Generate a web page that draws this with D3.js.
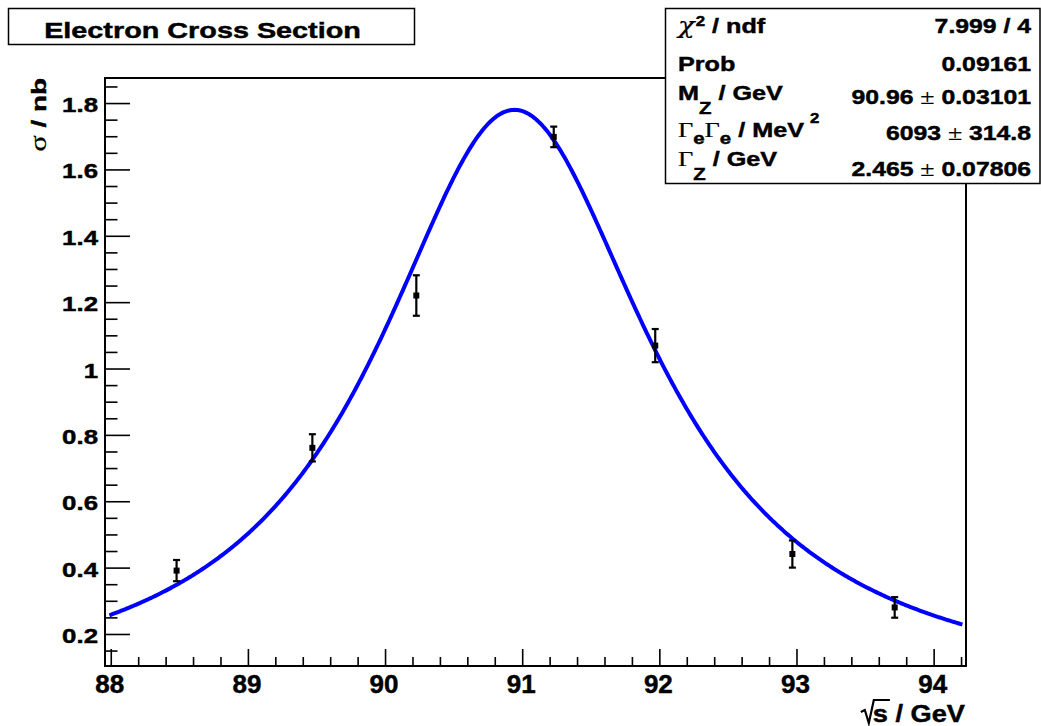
<!DOCTYPE html>
<html>
<head>
<meta charset="utf-8">
<script src="https://cdn.jsdelivr.net/npm/d3@7"></script>
<style>
  html, body { margin: 0; padding: 0; background: #fff; }
  svg { display: block; }
  text { font-family: "Liberation Sans", Arial, Helvetica, sans-serif; font-weight: bold; fill: #000;
         white-space: pre; stroke: #000; stroke-width: 0.45px; }
  text.sym { font-family: "Liberation Serif", "Times New Roman", serif; font-weight: normal; stroke-width: 0.2px; }
  text.sym2 { font-family: "DejaVu Serif", serif; font-weight: normal; font-style: italic; stroke-width: 0.2px; }
</style>
</head>
<body>
<svg id="chart" width="1041" height="726"></svg>
<script>
// Measured e+e- -> e+e- cross sections around the Z pole
const energies = [88.48, 89.47, 90.228, 91.23, 91.97, 92.97, 93.716];   // sqrt(s) / GeV
const sigma    = [0.391, 0.761, 1.220, 1.698, 1.069, 0.441, 0.280];     // nb
const sigmaErr = [0.032, 0.041, 0.061, 0.031, 0.050, 0.041, 0.031];     // nb

// Breit-Wigner fit result
const fitMZ      = 90.96;   // GeV
const fitGeeGee  = 6093;    // MeV^2
const fitGammaZ  = 2.465;   // GeV
const fitRange   = [87.99, 94.21];

const xDomain = [87.958, 94.236];
const yDomain = [0.1035, 1.8755];
const xTicks = [88, 89, 90, 91, 92, 93, 94];
const yTicks = [0.2, 0.4, 0.6, 0.8, 1, 1.2, 1.4, 1.6, 1.8];
const xTickLabels = ["88", "89", "90", "91", "92", "93", "94"];
const yTickLabels = ["0.2", "0.4", "0.6", "0.8", "1", "1.2", "1.4", "1.6", "1.8"];

const titleText = "Electron Cross Section";
const statValues = ["7.999 / 4", "0.09161", "90.96 \u00b1 0.03101", "6093 \u00b1 314.8", "2.465 \u00b1 0.07806"];

const svg = d3.select("#chart");
const frame = { left: 105, right: 966, top: 78, bottom: 666 };

const x = d3.scaleLinear().domain(xDomain).range([frame.left, frame.right]);
const y = d3.scaleLinear().domain(yDomain).range([frame.bottom, frame.top]);

// Rich text: each part is its own <text>, laid out left to right,
// with its own size, vertical offset and horizontal stretch.
function rich(parent, px, py, parts, opt) {
  const o = Object.assign({ size: 21, sx: 1, anchor: "start", rotate: 0 }, opt || {});
  const outer = parent.append("g").attr("transform", `translate(${px},${py}) rotate(${o.rotate})`);
  const inner = outer.append("g");
  let cx = 0;
  const widths = [];
  parts.forEach(p => {
    const q = typeof p === "string" ? { t: p } : p;
    const sx = q.sx || o.sx;
    cx += q.dx || 0;
    const t = inner.append("text")
      .attr("transform", `translate(${cx},${q.dy || 0}) scale(${sx},1)`)
      .style("font-size", (q.size || o.size) + "px")
      .text(q.t);
    if (q.cls) t.attr("class", q.cls);
    else if (q.sym) t.attr("class", "sym");
    const w = t.node().getComputedTextLength() * sx;
    widths.push({ start: cx, w });
    cx += w;
  });
  const shift = o.anchor === "end" ? -cx : o.anchor === "middle" ? -cx / 2 : 0;
  inner.attr("transform", `translate(${shift},0)`);
  return { width: cx, shift, widths };
}

// ---- ticks (inside the frame, left and bottom) ----
const yMinor = d3.range(0.15, 1.87, 0.05).map(v => +v.toFixed(2)).filter(v => !yTicks.some(t => Math.abs(t - v) < 1e-6));
const xMinor = d3.range(88.2, 94.23, 0.2).map(v => +v.toFixed(1)).filter(v => !xTicks.some(t => Math.abs(t - v) < 1e-6));

function styleAxis(g) {
  g.select(".domain").remove();
  g.selectAll(".tick line").attr("stroke", "#000").attr("stroke-width", 1.6);
  g.selectAll(".tick text").remove();
}

svg.append("g").attr("transform", `translate(${frame.left},0)`)
  .call(d3.axisLeft(y).tickValues(yTicks).tickSize(-25).tickFormat("")).call(styleAxis);
svg.append("g").attr("transform", `translate(${frame.left},0)`)
  .call(d3.axisLeft(y).tickValues(yMinor).tickSize(-12.5).tickFormat("")).call(styleAxis);
svg.append("g").attr("transform", `translate(0,${frame.bottom})`)
  .call(d3.axisBottom(x).tickValues(xTicks).tickSize(-17).tickFormat("")).call(styleAxis);
svg.append("g").attr("transform", `translate(0,${frame.bottom})`)
  .call(d3.axisBottom(x).tickValues(xMinor).tickSize(-9).tickFormat("")).call(styleAxis);

// tick labels
yTicks.forEach((v, i) => rich(svg, frame.left - 7, y(v) + 9, [yTickLabels[i]], { size: 21, sx: 1.23, anchor: "end" }));
xTicks.forEach((v, i) => rich(svg, x(v) - 1, 693, [xTickLabels[i]], { size: 25, sx: 1.04, anchor: "middle" }));

// frame
svg.append("rect")
  .attr("x", frame.left).attr("y", frame.top)
  .attr("width", frame.right - frame.left).attr("height", frame.bottom - frame.top)
  .attr("fill", "none").attr("stroke", "#000").attr("stroke-width", 2);

// ---- fit curve ----
function breitWigner(e) {
  const s = e * e, m2 = fitMZ * fitMZ, g2 = fitGeeGee * 1e-6;
  const num = 12 * Math.PI / m2 * s * g2;
  const den = (s - m2) * (s - m2) + s * s * fitGammaZ * fitGammaZ / m2;
  return num / den * 0.3894e6; // GeV^-2 -> nb
}
const curveE = d3.range(0, 601).map(i => fitRange[0] + (fitRange[1] - fitRange[0]) * i / 600);
svg.append("path")
  .datum(curveE)
  .attr("d", d3.line().x(e => x(e)).y(e => y(breitWigner(e))))
  .attr("fill", "none").attr("stroke", "#0000ff").attr("stroke-width", 4);

// ---- data points with error bars ----
const pts = svg.append("g").selectAll("g").data(energies.map((e, i) => ({ e, v: sigma[i], err: sigmaErr[i] })))
  .join("g");
pts.append("line")
  .attr("x1", d => x(d.e)).attr("x2", d => x(d.e))
  .attr("y1", d => y(d.v - d.err)).attr("y2", d => y(d.v + d.err))
  .attr("stroke", "#000").attr("stroke-width", 2.2);
pts.append("line")
  .attr("x1", d => x(d.e) - 3.5).attr("x2", d => x(d.e) + 3.5)
  .attr("y1", d => y(d.v + d.err)).attr("y2", d => y(d.v + d.err))
  .attr("stroke", "#000").attr("stroke-width", 2.2);
pts.append("line")
  .attr("x1", d => x(d.e) - 3.5).attr("x2", d => x(d.e) + 3.5)
  .attr("y1", d => y(d.v - d.err)).attr("y2", d => y(d.v - d.err))
  .attr("stroke", "#000").attr("stroke-width", 2.2);
pts.append("rect")
  .attr("x", d => x(d.e) - 3).attr("y", d => y(d.v) - 3)
  .attr("width", 6).attr("height", 6).attr("fill", "#000");

// ---- axis titles ----
rich(svg, 45.5, frame.top, [{ t: "\u03c3", sym: true, size: 23 }, " / nb"], { size: 21, sx: 1.33, anchor: "end", rotate: -90 });

{
  const r = rich(svg, 965, 722, ["s", " / GeV"], { size: 24.5, sx: 1.11, anchor: "end" });
  const x0 = 965 + r.shift;             // left edge of "s"
  const sW = r.widths[0].w;
  svg.append("path")
    .attr("d", `M${x0 - 12},712 L${x0 - 8},710 L${x0 - 4},723 L${x0 + 1},700 L${x0 + sW + 2},700`)
    .attr("fill", "none").attr("stroke", "#000").attr("stroke-width", 2.2).attr("stroke-linejoin", "miter");
}

// ---- title box ----
svg.append("rect").attr("x", 8.5).attr("y", 8.5).attr("width", 406).attr("height", 36)
  .attr("fill", "#fff").attr("stroke", "#000").attr("stroke-width", 1.5);
rich(svg, 202.5, 37.5, [titleText], { size: 22.5, sx: 1.28, anchor: "middle" });

// ---- fit statistics box ----
svg.append("rect").attr("x", 665.5).attr("y", 8.5).attr("width", 374.5).attr("height", 175)
  .attr("fill", "#fff").attr("stroke", "#000").attr("stroke-width", 1.5);

const statLabelParts = [
  [{ t: "\u03c7", cls: "sym2", size: 22, sx: 1.25 }, { t: "2", size: 14, dy: -7, dx: 1 }, " / ndf"],
  ["Prob"],
  ["M", { t: "Z", size: 17, dy: 14 }, " / GeV"],
  [{ t: "\u0393", sym: true, size: 22 }, { t: "e", size: 17, dy: 7 }, { t: "\u0393", sym: true, size: 22 },
   { t: "e", size: 17, dy: 7 }, " / MeV", { t: "2", size: 14, dy: -14, dx: 6 }],
  [{ t: "\u0393", sym: true, size: 22 }, { t: "Z", size: 17, dy: 14 }, " / GeV"]
];
const labelBase = [33, 71, 100, 137, 166];
const valueBase = [33, 71, 104, 140, 176];
statLabelParts.forEach((parts, i) => rich(svg, 678, labelBase[i], parts, { size: 21, sx: 1.2 }));
statValues.forEach((v, i) => {
  const bits = v.split("\u00b1");
  const parts = bits.length > 1 ? [bits[0], { t: "\u00b1", sym: true, size: 22 }, bits[1]] : [v];
  rich(svg, 1031, valueBase[i], parts, { size: 21, sx: 1.18, anchor: "end" });
});
</script>
</body>
</html>
